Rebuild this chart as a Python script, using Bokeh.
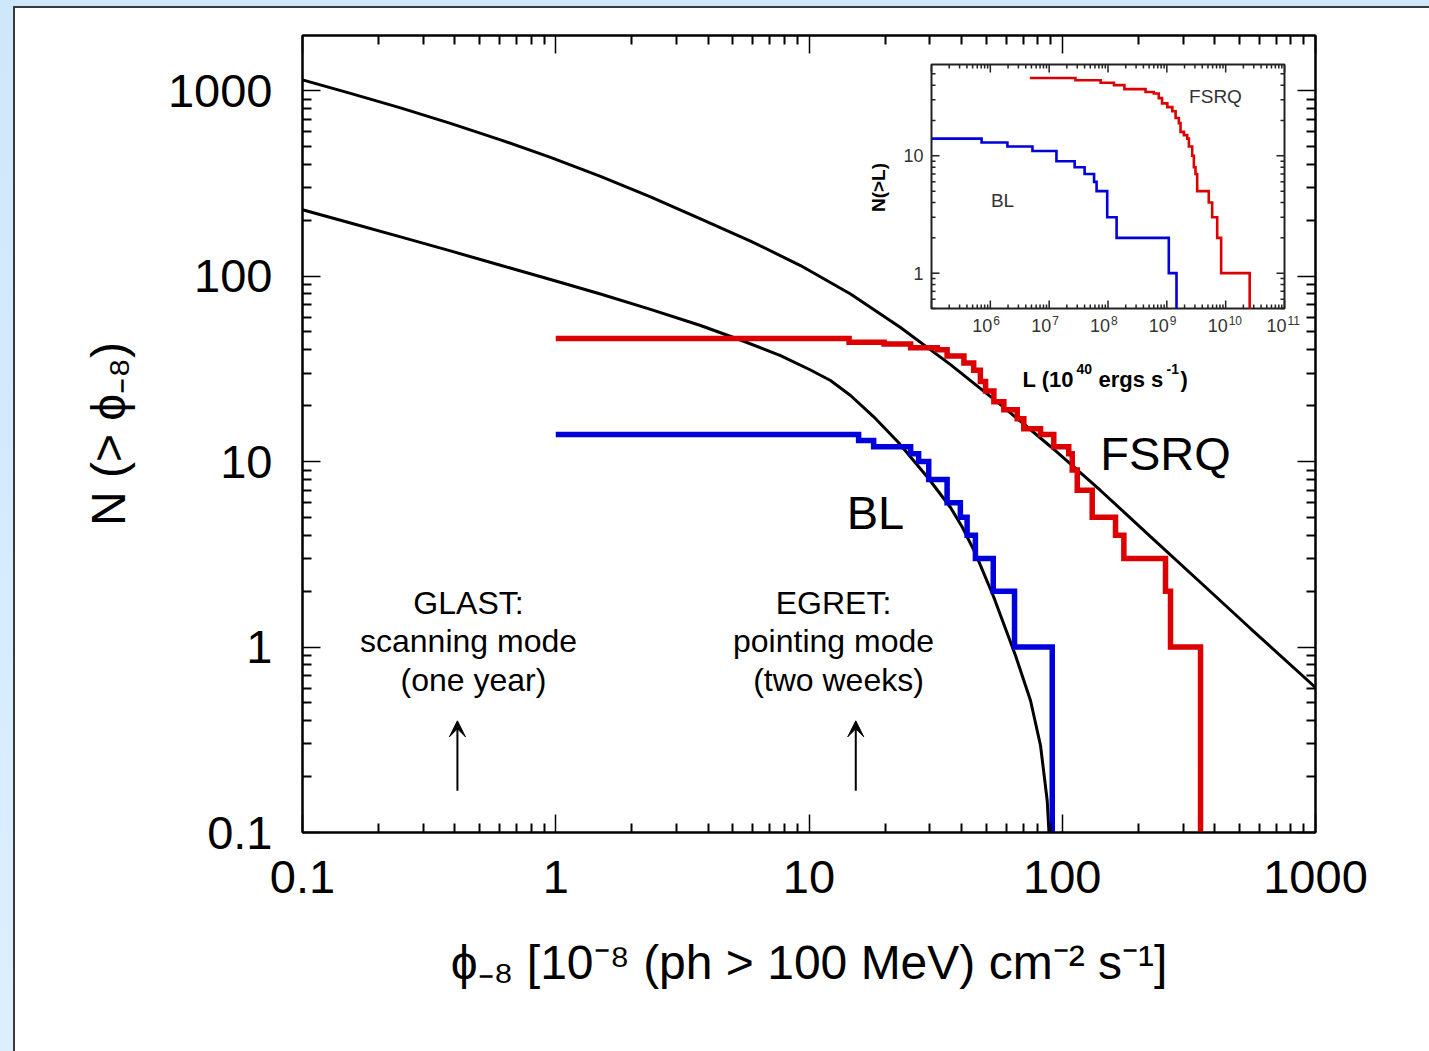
import numpy as np
from bokeh.plotting import figure
from bokeh.models import (Range1d, LogScale, FixedTicker, LogAxis, Label, Arrow, VeeHead)
from bokeh.core.properties import value
from bokeh.embed import file_html
from bokeh.resources import INLINE

FONT = "Liberation Sans"
RED = "#dc0000"
BLUE = "#0000dc"

# ---------------- data ----------------
x_ticks = [0.1, 1, 10, 100, 1000]
x_tick_labels = ["0.1", "1", "10", "100", "1000"]
y_ticks = [0.1, 1, 10, 100, 1000]
y_tick_labels = ["0.1", "1", "10", "100", "1000"]
x_title = "\u03d5\u208b\u2088 [10\u207b\u2078 (ph > 100 MeV) cm\u207b\u00b2 s\u207b\u00b9]"
y_title = "N (> \u03d5\u208b\u2088)"

# model curves N(>phi)
fsrq_model_flux = [0.1, 0.1547, 0.2438, 0.384, 0.605, 0.9535, 1.502, 2.367, 3.73, 5.875, 9.256,
                   14.59, 22.98, 36.21, 57.05, 89.87, 141.6, 223.1, 351.6, 553.8, 1000]
fsrq_model_n = [1142, 965.8, 806.6, 665.7, 542.3, 436.4, 344.8, 267.3, 203.4, 154.4, 113.9,
                80.0, 52.8, 33.3, 20.28, 12.05, 6.98, 3.94, 2.227, 1.258, 0.605]

bl_model_flux = [0.1, 0.1547, 0.2438, 0.384, 0.605, 0.9535, 1.502, 2.367, 3.73, 5.363, 7.718,
                 10.14, 12.16, 14.59, 17.97, 22.56, 29.65, 36.21, 40.37, 45.45, 53.53, 65.37,
                 74.93, 82.07, 87.21, 88.63]
bl_model_n = [227.5, 193.1, 162.5, 136.6, 114.3, 95.74, 80.0, 66.15, 54.1, 45.19, 37.27,
              31.14, 27.33, 22.69, 17.48, 12.66, 8.1, 5.65, 4.41, 3.19, 1.872, 0.90,
              0.5147, 0.2944, 0.1487, 0.1]

# observed integral counts: flux where N drops, and N on each interval
fsrq_flux_edges = [1, 14.4, 19.8, 25.2, 32.1, 35.1, 40.9, 44.7, 47.5, 49.8, 53.7, 58.8, 66.4,
                   70.5, 82.1, 92.6, 106.1, 109.5, 114.6, 131.3, 162.3, 175.1, 255.7, 267.6, 351.6]
fsrq_counts = [46, 44, 43, 41, 40, 37, 34, 31, 27, 24, 21, 19, 17, 15, 14, 12, 11, 9, 7, 5, 4, 3, 2, 1]

bl_flux_edges = [1, 15.7, 18.0, 25.2, 27.1, 29.7, 35.1, 39.6, 42.1, 45.4, 53.4, 64.8, 91.3]
bl_counts = [14, 13, 12, 11, 10, 8, 6, 5, 4, 3, 2, 1]

# inset: luminosity functions N(>L), L in 1e40 erg/s
inset_fsrq_L_edges = [4.7e6, 2.8e7, 7.5e7, 1.26e8, 1.9e8, 4.35e8, 6.0e8, 7.3e8, 8.3e8, 1.02e9,
                      1.24e9, 1.41e9, 1.6e9, 1.71e9, 1.95e9, 2.22e9, 2.37e9, 2.7e9, 2.88e9,
                      3.07e9, 3.28e9, 5.16e9, 5.9e9, 7.18e9, 8.38e9, 2.56e10]
inset_fsrq_counts = [46, 44, 42, 40, 37, 35, 34, 31, 28, 26, 24, 21, 19, 16, 15, 14, 12, 10, 8,
                     7, 5, 4, 3, 2, 1]
inset_bl_L_edges = [1e5, 7.1e5, 1.95e6, 5.2e6, 1.33e7, 2.71e7, 4.0e7, 5.8e7, 6.4e7, 9.7e7,
                    1.4e8, 1.08e9, 1.46e9]
inset_bl_counts = [14, 13, 12, 11, 9, 8, 7, 6, 5, 3, 2, 1]

inset_x_major = [1e5, 1e6, 1e7, 1e8, 1e9, 1e10, 1e11]
inset_x_labels = ["6", "7", "8", "9", "10", "11"]        # exponents of 10 for 1e6..1e11
inset_y_major = [1, 10]
inset_y_labels = ["1", "10"]

# ---------------- layout constants ----------------
W, H = 1429, 1051
FL, FT, FR, FB = 302, 35, 1315, 832          # main frame (canvas px)
IL, IT, IR, IB = 931, 64, 1284, 308          # inset frame (canvas px)
X0, X1 = 0.1, 1000
Y0, Y1 = 0.1, 1980
IX0, IX1 = 1e5, 1e11
IY0, IY1 = 0.5, 60

p = figure(width=W, height=H, x_axis_type="log", y_axis_type="log",
           x_range=Range1d(X0, X1), y_range=Range1d(Y0, Y1),
           output_backend="svg", toolbar_location=None,
           min_border_left=FL, min_border_top=FT, min_border_right=W - FR,
           min_border_bottom=H - FB)
p.border_fill_color = None
p.background_fill_color = "white"
p.outline_line_color = "black"
p.outline_line_width = 2
p.grid.visible = False
# light-blue page with a white panel (dark left/top edge) behind the transparent canvas
p.styles = {"background": "linear-gradient(#ffffff,#ffffff) 15px 8px / 100% 100% no-repeat, "
                          "linear-gradient(#3a3a3a,#3a3a3a) 13px 6px / 100% 100% no-repeat, "
                          "linear-gradient(#cfe7fa,#dcefff)"}

def minor_list(lo_exp, hi_exp):
    return [m * 10.0 ** k for k in range(lo_exp, hi_exp + 1) for m in range(2, 10)]

def style_axis(ax, ticks, labels, show):
    ax.ticker = FixedTicker(ticks=ticks, minor_ticks=minor_list(-1, 3))
    ax.axis_line_width = 2
    ax.major_tick_in = 18
    ax.major_tick_out = 0
    ax.minor_tick_in = 9
    ax.minor_tick_out = 0
    ax.major_tick_line_width = 1.5
    ax.minor_tick_line_width = 2
    if show:
        ax.major_label_overrides = {t: s for t, s in zip(ticks, labels)}
        ax.major_label_text_font = FONT
        ax.major_label_text_font_size = "47px"
        ax.major_label_text_color = "black"
        ax.axis_label_text_font = FONT
        ax.axis_label_text_font_size = "48px"
        ax.axis_label_text_font_style = "normal"
        ax.axis_label_text_color = "black"
    else:
        ax.major_label_text_font_size = "10px"
        ax.major_label_text_color = None
        ax.major_label_standoff = 0

xa_ = p.xaxis[0]
style_axis(xa_, x_ticks, x_tick_labels, True)
xa_.major_label_standoff = 28
xa_.axis_label = x_title
xa_.axis_label_standoff = 40
ya_ = p.yaxis[0]
style_axis(ya_, y_ticks, y_tick_labels, True)
ya_.major_label_standoff = 30
ya_.axis_label = y_title
ya_.axis_label_standoff = 30
top_ax = LogAxis()
right_ax = LogAxis()
style_axis(top_ax, x_ticks, x_tick_labels, False)
style_axis(right_ax, y_ticks, y_tick_labels, False)
p.add_layout(top_ax, "above")
p.add_layout(right_ax, "right")

# ---------------- main data ----------------
p.line(fsrq_model_flux, fsrq_model_n, line_color="black", line_width=3)
p.line(bl_model_flux, bl_model_n, line_color="black", line_width=3)

def staircase(edges, counts, floor):
    return list(edges), list(counts) + [floor]

xs, ys = staircase(fsrq_flux_edges, fsrq_counts, Y0)
p.step(xs, ys, mode="after", line_color=RED, line_width=5.5, line_join="miter")
xs, ys = staircase(bl_flux_edges, bl_counts, Y0)
p.step(xs, ys, mode="after", line_color=BLUE, line_width=5.5, line_join="miter")

# ---------------- inset via extra ranges ----------------
dec_x = (IR - IL) / np.log10(IX1 / IX0)
lo_x = np.log10(IX0) - (IL - FL) / dec_x
hi_x = np.log10(IX1) + (FR - IR) / dec_x
dec_y = (IB - IT) / np.log10(IY1 / IY0)
lo_y = np.log10(IY0) - (FB - IB) / dec_y
hi_y = np.log10(IY1) + (IT - FT) / dec_y
p.extra_x_ranges = {"ix": Range1d(10 ** lo_x, 10 ** hi_x)}
p.extra_y_ranges = {"iy": Range1d(10 ** lo_y, 10 ** hi_y)}
p.extra_x_scales = {"ix": LogScale()}
p.extra_y_scales = {"iy": LogScale()}
IR_ = dict(x_range_name="ix", y_range_name="iy")

p.quad(left=[IX0], right=[IX1], bottom=[IY0], top=[IY1], fill_color="white",
       line_color="#222222", line_width=2, **IR_)

xs, ys = staircase(inset_fsrq_L_edges, inset_fsrq_counts, IY0)
p.step(xs, ys, mode="after", line_color=RED, line_width=2.6, line_join="miter", **IR_)
xs, ys = staircase(inset_bl_L_edges, inset_bl_counts, IY0)
p.step(xs, ys, mode="after", line_color=BLUE, line_width=2.6, line_join="miter", **IR_)

ix_minor = [m * 10.0 ** k for k in range(5, 11) for m in range(2, 10)]
iy_minor = [0.5, 0.6, 0.7, 0.8, 0.9] + list(range(2, 10)) + [20, 30, 40, 50]
tick_kw = dict(line_color="#222222", line_width=1.5, length_units="screen", **IR_)
for yv, ang in ((IY0, np.pi / 2), (IY1, -np.pi / 2)):
    p.ray(x=inset_x_major, y=[yv] * len(inset_x_major), length=8, angle=ang, **tick_kw)
    p.ray(x=ix_minor, y=[yv] * len(ix_minor), length=4, angle=ang, **tick_kw)
for xv, ang in ((IX0, 0.0), (IX1, np.pi)):
    p.ray(x=[xv] * len(inset_y_major), y=inset_y_major, length=8, angle=ang, **tick_kw)
    p.ray(x=[xv] * len(iy_minor), y=iy_minor, length=4, angle=ang, **tick_kw)

lab_x = inset_x_major[1:]
p.text(x=lab_x, y=[IY0] * len(lab_x), text=["10"] * len(lab_x), x_offset=2, y_offset=10,
       text_align="right", text_baseline="top", text_font=value(FONT),
       text_font_size="18px", text_color="#333333", **IR_)
p.text(x=lab_x, y=[IY0] * len(lab_x), text=inset_x_labels, x_offset=3, y_offset=7,
       text_align="left", text_baseline="top", text_font=value(FONT),
       text_font_size="12px", text_color="#333333", **IR_)
p.text(x=[IX0] * 2, y=inset_y_major, text=inset_y_labels, x_offset=-8,
       text_align="right", text_baseline="middle", text_font=value(FONT),
       text_font_size="18px", text_color="#333333", **IR_)

# ---------------- text helpers ----------------
def put(text, px, py, size, align="left", baseline="alphabetic", angle=0.0, bold=False,
        color="black"):
    p.add_layout(Label(x=px - FL, y=FB - py, x_units="screen", y_units="screen", text=text,
                       text_font=FONT, text_font_size=f"{size}px", text_align=align,
                       text_baseline=baseline, angle=angle, text_color=color,
                       text_font_style="bold" if bold else "normal"))

# inset labels
put("FSRQ", 1215, 96, 19, "center", "middle", color="#333333")
put("BL", 1002, 200, 19, "center", "middle", color="#333333")
put("L (10", 1022, 379, 22, bold=True)
put("40", 1076, 368, 14, bold=True)
put("ergs s", 1098, 379, 22, bold=True)
put("-1", 1166, 368, 14, bold=True)
put(")", 1180, 379, 22, bold=True)
put("N(>L)", 878, 187, 19, "center", "middle", angle=np.pi / 2, bold=True)

# main annotations
put("FSRQ", 1165, 453, 47, "center", "middle")
put("BL", 875, 512, 47, "center", "middle")
put("GLAST:", 468, 602, 32, "center", "middle")
put("scanning mode", 468, 640, 32, "center", "middle")
put("(one year)", 473, 679, 32, "center", "middle")
put("EGRET:", 833, 602, 32, "center", "middle")
put("pointing mode", 833, 640, 32, "center", "middle")
put("(two weeks)", 838, 679, 32, "center", "middle")

# arrows
for xa in (0.409, 15.3):
    p.add_layout(Arrow(end=VeeHead(size=16, line_color="black", fill_color="black"),
                       x_start=xa, y_start=0.168, x_end=xa, y_end=0.40,
                       line_color="black", line_width=2))

open("out.html", "w").write(file_html(p, INLINE))
